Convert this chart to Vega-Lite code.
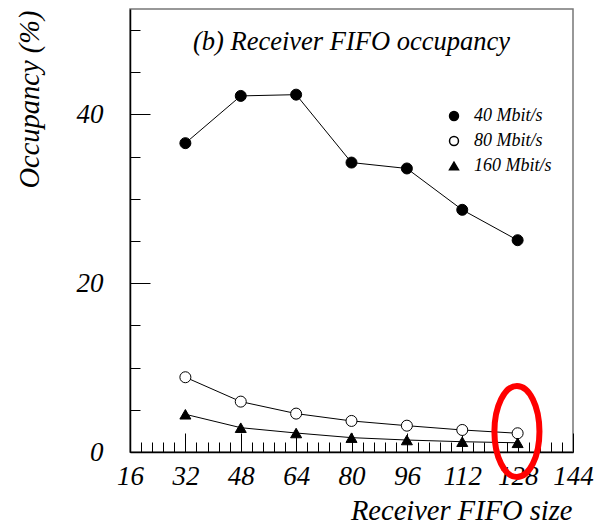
{
  "$schema": "https://vega.github.io/schema/vega-lite/v6.json",
  "width": 443,
  "height": 443,
  "autosize": {"type": "none"},
  "padding": {"left": 130, "top": 9, "right": 23, "bottom": 72},
  "background": "white",
  "config": {
    "view": {"stroke": "#777777", "strokeWidth": 1.5},
    "font": "Liberation Serif",
    "axis": {
      "labelFont": "Liberation Serif",
      "labelFontStyle": "italic",
      "labelFontSize": 27,
      "labelColor": "black",
      "titleFont": "Liberation Serif",
      "titleFontStyle": "italic",
      "titleFontWeight": "normal",
      "titleFontSize": 28.5,
      "titleColor": "black",
      "domainColor": "black",
      "domainWidth": 1.5,
      "tickColor": "black",
      "tickWidth": 1,
      "grid": false,
      "labelOverlap": false,
      "labelFlush": false,
      "labelBound": false
    },
    "legend": {
      "labelFont": "Liberation Serif",
      "labelFontStyle": "italic",
      "labelFontSize": 18,
      "labelColor": "black"
    }
  },
  "title": {
    "text": "(b) Receiver FIFO occupancy",
    "font": "Liberation Serif",
    "fontStyle": "italic",
    "fontWeight": "normal",
    "fontSize": 26.5,
    "color": "black",
    "anchor": "middle",
    "frame": "group",
    "baseline": "alphabetic",
    "offset": -67
  },
  "datasets": {
    "occ": [
      {"size": 32, "rate": "40 Mbit/s", "occ": 36.6},
      {"size": 48, "rate": "40 Mbit/s", "occ": 42.2},
      {"size": 64, "rate": "40 Mbit/s", "occ": 42.35},
      {"size": 80, "rate": "40 Mbit/s", "occ": 34.3},
      {"size": 96, "rate": "40 Mbit/s", "occ": 33.6},
      {"size": 112, "rate": "40 Mbit/s", "occ": 28.7},
      {"size": 128, "rate": "40 Mbit/s", "occ": 25.1},
      {"size": 32, "rate": "80 Mbit/s", "occ": 8.86},
      {"size": 48, "rate": "80 Mbit/s", "occ": 5.97},
      {"size": 64, "rate": "80 Mbit/s", "occ": 4.55},
      {"size": 80, "rate": "80 Mbit/s", "occ": 3.68},
      {"size": 96, "rate": "80 Mbit/s", "occ": 3.12},
      {"size": 112, "rate": "80 Mbit/s", "occ": 2.61},
      {"size": 128, "rate": "80 Mbit/s", "occ": 2.22},
      {"size": 32, "rate": "160 Mbit/s", "occ": 4.47},
      {"size": 48, "rate": "160 Mbit/s", "occ": 2.88},
      {"size": 64, "rate": "160 Mbit/s", "occ": 2.25},
      {"size": 80, "rate": "160 Mbit/s", "occ": 1.7},
      {"size": 96, "rate": "160 Mbit/s", "occ": 1.42},
      {"size": 112, "rate": "160 Mbit/s", "occ": 1.22},
      {"size": 128, "rate": "160 Mbit/s", "occ": 1.09}
    ],
    "highlight": [
      {"size": 127.8, "occ": 2.43}
    ]
  },
  "layer": [
    {
      "data": {"name": "occ"},
      "mark": {"type": "line", "color": "black", "strokeWidth": 1},
      "encoding": {
        "x": {
          "field": "size", "type": "quantitative",
          "scale": {"domain": [16, 144], "nice": false, "zero": false},
          "axis": {
            "orient": "bottom",
            "values": [16, 32, 48, 64, 80, 96, 112, 128, 144],
            "tickSize": -19,
            "labelPadding": 30,
            "title": "Receiver FIFO size",
            "titleAnchor": "end",
            "titleAlign": "right",
            "titleBaseline": "alphabetic",
            "titleX": 442,
            "titleY": 67
          }
        },
        "y": {
          "field": "occ", "type": "quantitative",
          "scale": {"domain": [0, 52.5], "nice": false, "zero": true},
          "axis": {
            "orient": "left",
            "values": [0, 20, 40],
            "tickSize": -20,
            "labelPadding": 47,
            "title": "Occupancy (%)",
            "titleAngle": -90,
            "titleAlign": "right",
            "titleBaseline": "alphabetic",
            "titleX": -92,
            "titleY": 1
          }
        },
        "detail": {"field": "rate"}
      }
    },
    {
      "data": {"name": "occ"},
      "mark": {"type": "point", "filled": true, "stroke": "black", "strokeWidth": 1, "opacity": 1, "size": 121},
      "encoding": {
        "x": {"field": "size", "type": "quantitative", "axis": null},
        "y": {"field": "occ", "type": "quantitative", "axis": null},
        "shape": {
          "field": "rate", "type": "nominal",
          "scale": {"domain": ["40 Mbit/s", "80 Mbit/s", "160 Mbit/s"], "range": ["circle", "circle", "triangle-up"]},
          "legend": {
            "title": null,
            "orient": "none",
            "legendX": 315,
            "legendY": 98,
            "padding": 0,
            "symbolSize": 80,
            "labelOffset": 11,
            "rowPadding": 7,
            "encode": {"symbols": {"update": {"stroke": {"value": "black"}, "strokeWidth": {"value": 1}}}}
          }
        },
        "fill": {
          "field": "rate", "type": "nominal",
          "scale": {"domain": ["40 Mbit/s", "80 Mbit/s", "160 Mbit/s"], "range": ["black", "white", "black"]},
          "legend": {
            "title": null,
            "orient": "none",
            "legendX": 315,
            "legendY": 98,
            "padding": 0,
            "symbolSize": 80,
            "labelOffset": 11,
            "rowPadding": 7,
            "encode": {"symbols": {"update": {"stroke": {"value": "black"}, "strokeWidth": {"value": 1}}}}
          }
        }
      }
    },
    {
      "data": {"name": "highlight"},
      "mark": {
        "type": "point",
        "shape": "M0,-1 A0.495,1 0 1,1 0,1 A0.495,1 0 1,1 0,-1 Z",
        "size": 8281,
        "filled": false,
        "fill": null,
        "stroke": "#ff0000",
        "strokeWidth": 6,
        "opacity": 1
      },
      "encoding": {
        "x": {"field": "size", "type": "quantitative", "axis": null},
        "y": {"field": "occ", "type": "quantitative", "axis": null}
      }
    },
    {
      "data": {"name": "occ"},
      "mark": {"type": "point", "opacity": 0},
      "encoding": {
        "x": {
          "field": "size", "type": "quantitative",
          "axis": {
            "orient": "bottom",
            "values": [19.2, 22.4, 25.6, 28.8, 35.2, 38.4, 41.6, 44.8, 51.2, 54.4, 57.6, 60.8, 67.2, 70.4, 73.6, 76.8, 83.2, 86.4, 89.6, 92.8, 99.2, 102.4, 105.6, 108.8, 115.2, 118.4, 121.6, 124.8, 131.2, 134.4, 137.6, 140.8],
            "tickSize": -10,
            "labels": false,
            "domain": false,
            "title": null
          }
        },
        "y": {
          "field": "occ", "type": "quantitative",
          "axis": {
            "orient": "left",
            "values": [5, 10, 15, 25, 30, 35, 45, 50],
            "tickSize": -10,
            "labels": false,
            "domain": false,
            "title": null
          }
        }
      }
    }
  ],
  "resolve": {"axis": {"x": "independent", "y": "independent"}}
}
